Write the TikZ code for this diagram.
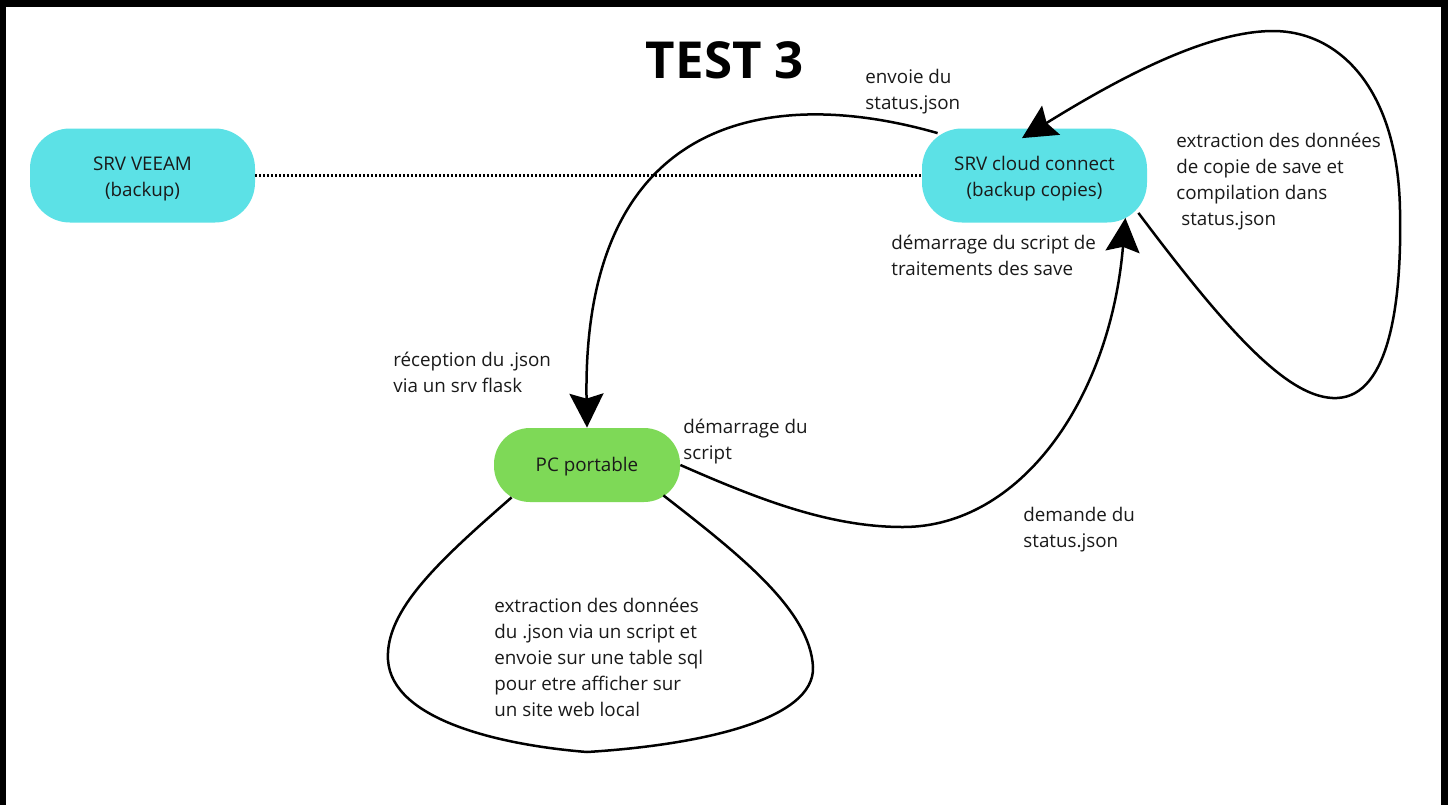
\documentclass[tikz,border=0pt]{standalone}
\usepackage{fontspec}
\setmainfont{Open Sans}
\usetikzlibrary{arrows.meta}
\definecolor{cyanbox}{HTML}{5CE1E6}
\definecolor{greenbox}{HTML}{7ED957}
\definecolor{txt}{HTML}{1A1A1A}
\begin{document}
\begin{tikzpicture}[x=0.5pt,y=-0.5pt,
  lbl/.style={anchor=north west, align=left, inner sep=0pt, text=txt, font=\fontsize{9.4}{13}\selectfont},
  srvbox/.style={fill=cyanbox, rounded corners=20pt, minimum width=112.5pt, minimum height=47pt, align=center, inner sep=0pt, text=txt, font=\fontsize{9.4}{13}\selectfont},
  pcbox/.style={fill=greenbox, rounded corners=18pt, minimum width=93pt, minimum height=37pt, align=center, inner sep=0pt, text=txt, font=\fontsize{9.4}{13}\selectfont},
  conn/.style={line width=1.25pt, black},
  tipend/.style={-{Stealth[length=17pt,width=17pt,inset=2.5pt]}},
  dotline/.style={line width=1.4pt, dash pattern=on 1pt off 1pt}
]
\useasboundingbox (0,0) rectangle (1448,805);
\fill[black] (0,0) rectangle (1448,805);
\fill[white] (6,7) rectangle (1441,805);

\node[font=\fontsize{25.5}{30}\selectfont\bfseries] (title) at (725,60) {TEST 3};

\node[srvbox] (veeam) at (142.5,175.5) {\rule{0pt}{10.6pt}SRV VEEAM\\(backup)};
\node[srvbox] (cloud) at (1034.5,175.5) {\rule{0pt}{10.6pt}SRV cloud connect\\(backup copies)};
\node[pcbox] (pc) at (587,465) {\rule{0pt}{9pt}PC portable};

\coordinate (cloudin) at ([shift={(-12.5,10)}]cloud.north);

\draw[dotline] (veeam.east) -- (cloud.west);

% cloud -> pc
\draw[conn,tipend] ([shift={(16,5)}]cloud.north west) .. controls (770,85) and (582,115) .. (pc.north);
% pc -> cloud
\draw[conn,tipend] (pc.east) .. controls (760,500) and (830,527) .. (903,527)
  .. controls (1020,527) and (1110,400) .. ([shift={(-22,-5)}]cloud.south east);
% cloud self loop
\draw[conn,tipend] ([shift={(-9,-10)}]cloud.south east) .. controls (1230,335) and (1290,400) .. (1337,398)
  .. controls (1390,396) and (1402,300) .. (1400,210)
  .. controls (1398,90) and (1340,31) .. (1273,31)
  .. controls (1200,31) and (1100,90) .. (cloudin);
% pc self loop
\draw[conn] ([shift={(18,-5)}]pc.south west) .. controls (440,560) and (385,610) .. (388,660)
  .. controls (392,720) and (500,745) .. (587,752)
  .. controls (700,745) and (815,720) .. (813,667)
  .. controls (810,610) and (740,555) .. ([shift={(-17,-7)}]pc.south east);

\node[lbl] (l1) at (865,69) {envoie du\\status.json};
\node[lbl] (l2) at (1176,133) {extraction des données\\de copie de save et\\compilation dans\\\hspace*{.26em}status.json};
\node[lbl] (l3) at (891,235) {démarrage du script de\\traitements des save};
\node[lbl] (l4) at (393,352) {réception du .json\\via un srv flask};
\node[lbl] (l5) at (683,419) {démarrage du\\script};
\node[lbl] (l6) at (1023,507) {demande du\\status.json};
\node[lbl] (l7) at (494,598) {extraction des données\\du .json via un script et\\envoie sur une table sql\\pour etre afficher sur\\un site web local};
\end{tikzpicture}
\end{document}
